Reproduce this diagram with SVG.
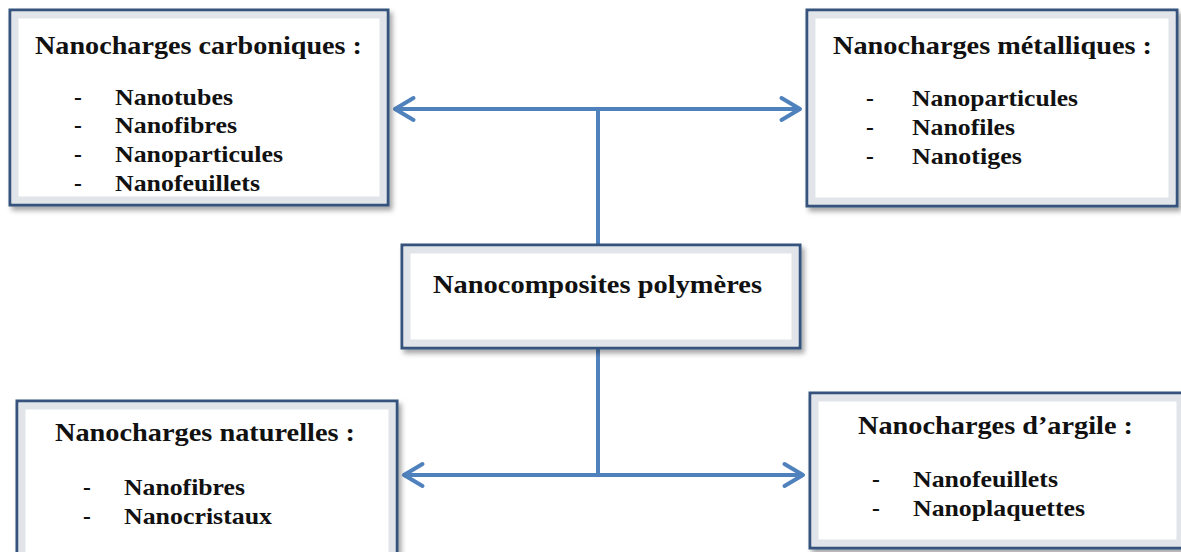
<svg xmlns="http://www.w3.org/2000/svg" width="1181" height="552" viewBox="0 0 1181 552">
<defs>
<filter id="sh" x="-5%" y="-5%" width="115%" height="120%">
<feDropShadow dx="3" dy="4" stdDeviation="2.5" flood-color="#000" flood-opacity="0.35"/>
</filter>
<marker id="ah" markerWidth="8" markerHeight="10" refX="6.5" refY="5" orient="auto-start-reverse" markerUnits="userSpaceOnUse" viewBox="0 0 8 10" overflow="visible">
<path d="M-12,-6 L6.5,5 L-12,16" fill="none" stroke="#4F81BD" stroke-width="4" stroke-linejoin="round" stroke-linecap="round"/>
</marker>
</defs>
<style>
.box{fill:#fff;stroke:#34527c;stroke-width:3;filter:url(#sh)}
.bev{fill:none;stroke:#d9dde3;stroke-width:7;opacity:0.8}
.t{font-family:"Liberation Serif","Times New Roman",serif;font-weight:bold;fill:#111}
.h{font-size:26px}
.i{font-size:23.5px}
.c{fill:none;stroke:#4F81BD;stroke-width:4}
</style>
<rect width="1181" height="552" fill="#fff"/>
<g id="connectors">
<line class="c" x1="395" y1="109" x2="800" y2="109" marker-start="url(#ah)" marker-end="url(#ah)"/>
<line class="c" x1="598" y1="109" x2="598" y2="245"/>
<line class="c" x1="598" y1="348" x2="598" y2="475"/>
<line class="c" x1="404" y1="475" x2="803" y2="475" marker-start="url(#ah)" marker-end="url(#ah)"/>
</g>
<g id="carboniques">
<rect class="box" x="10" y="10" width="378" height="195"/>
<rect class="bev" x="15" y="15" width="368" height="185"/>
<text class="t h" x="35" y="54" textLength="327" lengthAdjust="spacingAndGlyphs">Nanocharges carboniques :</text>
<text class="t i" x="74" y="105">-</text><text class="t i" x="115" y="105" textLength="118" lengthAdjust="spacingAndGlyphs">Nanotubes</text>
<text class="t i" x="74" y="133">-</text><text class="t i" x="115" y="133" textLength="122" lengthAdjust="spacingAndGlyphs">Nanofibres</text>
<text class="t i" x="74" y="162">-</text><text class="t i" x="115" y="162" textLength="168" lengthAdjust="spacingAndGlyphs">Nanoparticules</text>
<text class="t i" x="74" y="191">-</text><text class="t i" x="115" y="191" textLength="145" lengthAdjust="spacingAndGlyphs">Nanofeuillets</text>
</g>
<g id="metalliques">
<rect class="box" x="807" y="10" width="370" height="196"/>
<rect class="bev" x="812" y="15" width="360" height="186"/>
<text class="t h" x="833" y="54" textLength="319" lengthAdjust="spacingAndGlyphs">Nanocharges métalliques :</text>
<text class="t i" x="866" y="106">-</text><text class="t i" x="912" y="106" textLength="166" lengthAdjust="spacingAndGlyphs">Nanoparticules</text>
<text class="t i" x="866" y="135">-</text><text class="t i" x="912" y="135" textLength="103" lengthAdjust="spacingAndGlyphs">Nanofiles</text>
<text class="t i" x="866" y="164">-</text><text class="t i" x="912" y="164" textLength="110" lengthAdjust="spacingAndGlyphs">Nanotiges</text>
</g>
<g id="polymeres">
<rect class="box" x="402" y="245" width="398" height="103"/>
<rect class="bev" x="407" y="250" width="388" height="93"/>
<text class="t h" x="433" y="293" textLength="329" lengthAdjust="spacingAndGlyphs">Nanocomposites polymères</text>
</g>
<g id="naturelles">
<rect class="box" x="17" y="401" width="380" height="155"/>
<rect class="bev" x="22" y="406" width="370" height="150"/>
<text class="t h" x="55" y="441" textLength="300" lengthAdjust="spacingAndGlyphs">Nanocharges naturelles :</text>
<text class="t i" x="83" y="495">-</text><text class="t i" x="124" y="495" textLength="121" lengthAdjust="spacingAndGlyphs">Nanofibres</text>
<text class="t i" x="83" y="524">-</text><text class="t i" x="124" y="524" textLength="148" lengthAdjust="spacingAndGlyphs">Nanocristaux</text>
</g>
<g id="argile">
<rect class="box" x="810" y="393" width="375" height="155"/>
<rect class="bev" x="815" y="398" width="365" height="145"/>
<text class="t h" x="858" y="434" textLength="275" lengthAdjust="spacingAndGlyphs">Nanocharges d’argile :</text>
<text class="t i" x="872" y="487">-</text><text class="t i" x="913" y="487" textLength="145" lengthAdjust="spacingAndGlyphs">Nanofeuillets</text>
<text class="t i" x="872" y="516">-</text><text class="t i" x="913" y="516" textLength="172" lengthAdjust="spacingAndGlyphs">Nanoplaquettes</text>
</g>
</svg>
